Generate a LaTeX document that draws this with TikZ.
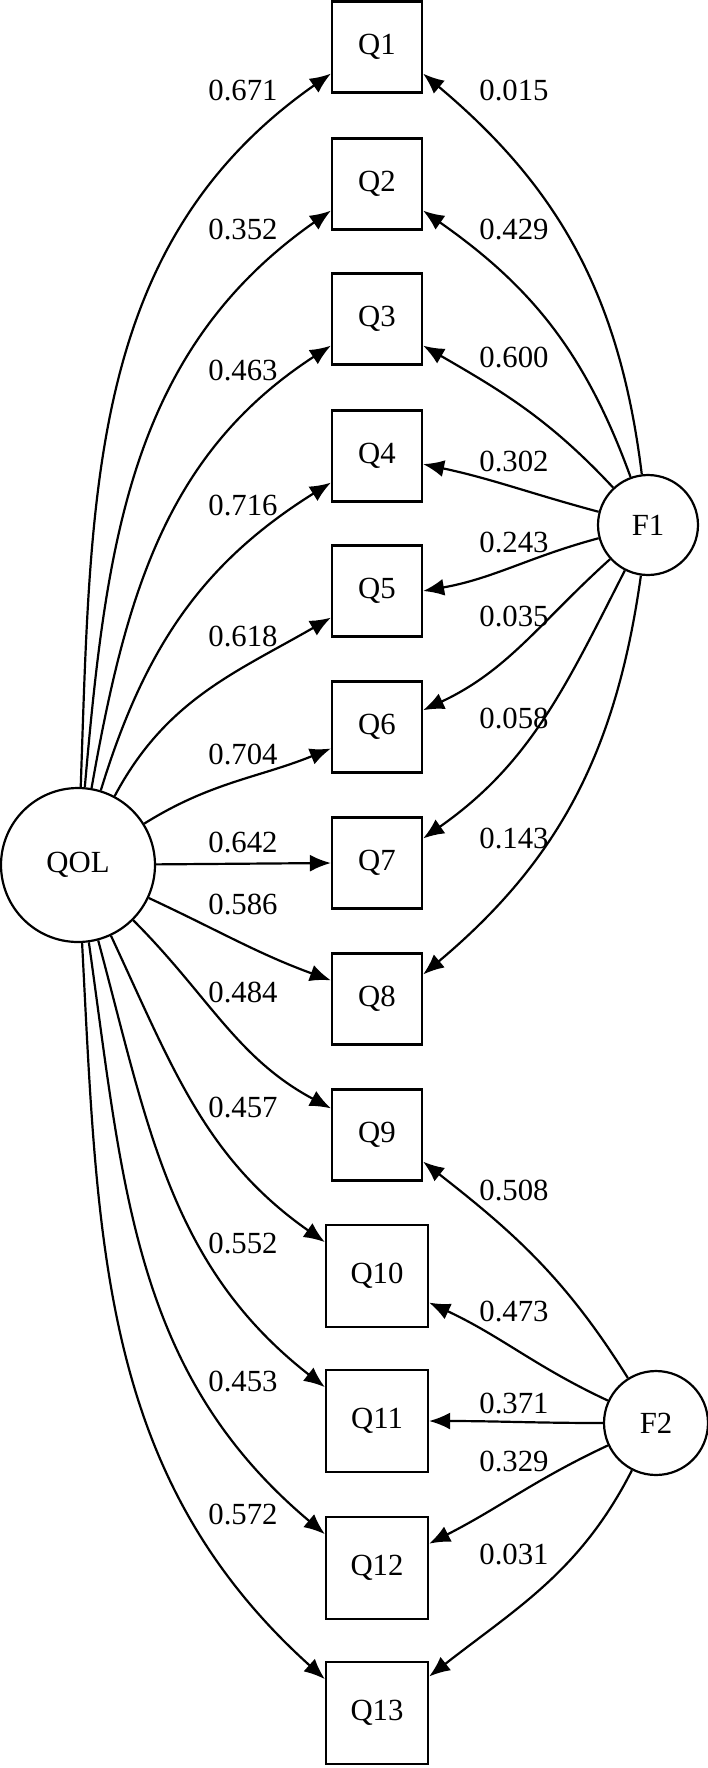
\documentclass[tikz,border=0pt]{standalone}
\usepackage{fontspec}
\setmainfont{Liberation Serif}
\usetikzlibrary{positioning, arrows.meta}

\begin{document}
\begin{tikzpicture}[
    x=0.02cm, y=-0.02cm,
    font=\fontsize{17.5}{20}\selectfont,
    item/.style={rectangle, draw, line width=1.25pt, minimum width=1.8cm, minimum height=1.82cm},
    latent/.style={circle, draw, line width=1.25pt},
    path/.style={-{Latex[length=0.42cm,width=0.34cm]}, line width=1.25pt},
    coef/.style={inner sep=1pt}
]
\useasboundingbox (0,0) rectangle (707,1768);

\node[latent, minimum size=3.08cm] (QOL) at (78,865) {QOL};
\node[latent, minimum size=2.0cm] (F1) at (648,525) {F1};
\node[latent, minimum size=2.08cm] (F2) at (656,1423) {F2};

% items
\foreach \i/\y in {1/47, 2/184, 3/319, 4/456, 5/591, 6/727, 7/863, 8/999, 9/1135}
    \node[item] (Q\i) at (377,\y) {Q\i};
\foreach \i/\y in {10/1276, 11/1421, 12/1568, 13/1713}
    \node[item, minimum width=2.04cm, minimum height=2.04cm] (Q\i) at (377,\y) {Q\i};

% QOL loadings
\foreach \i/\o/\a/\n/\v/\ly in {1/88/210/215/0.671/90, 2/85/210/215/0.352/229, 3/80/210/213/0.463/370,
    4/73/210/212/0.716/505, 5/62/210/210/0.618/636, 6/32/205/202/0.704/754}
{
    \draw[path] (QOL) to[out=\o, in=\n] (Q\i.\a);
    \node[coef] (qol\i) at (243,\ly) {\v};
}
\draw[path] (QOL) -- (Q7.west);
\node[coef] (qol7) at (243,842) {0.642};
\foreach \i/\o/\a/\n/\v/\ly in {8/-25/158/160/0.586/904, 9/-45/150/152/0.484/992, 10/-65/147/145/0.457/1107,
    11/-75/147/142/0.552/1243, 12/-82/147/140/0.453/1381, 13/-87/147/138/0.572/1514}
{
    \draw[path] (QOL) to[out=\o, in=\n] (Q\i.\a);
    \node[coef] (qol\i) at (243,\ly) {\v};
}

% F1 loadings
\foreach \i/\o/\a/\n/\v/\ly in {1/97/-30/-40/0.015/90, 2/110/-30/-35/0.429/229, 3/133/-30/-30/0.600/357,
    4/165/-10/-12/0.302/461, 5/195/0/10/0.243/542, 6/222/20/25/0.035/616,
    7/243/28/35/0.058/718, 8/262/28/40/0.143/838}
{
    \draw[path] (F1) to[out=\o, in=\n] (Q\i.\a);
    \node[coef] (fa\i) at (514,\ly) {\v};
}

% F2 loadings
\foreach \i/\o/\a/\n/\v/\ly in {9/122/-30/-38/0.508/1190, 10/155/-27/-25/0.473/1311, 11/180/0/0/0.371/1403,
    12/205/25/27/0.329/1461, 13/243/35/38/0.031/1554}
{
    \draw[path] (F2) to[out=\o, in=\n] (Q\i.\a);
    \node[coef] (fb\i) at (514,\ly) {\v};
}

\end{tikzpicture}
\end{document}
